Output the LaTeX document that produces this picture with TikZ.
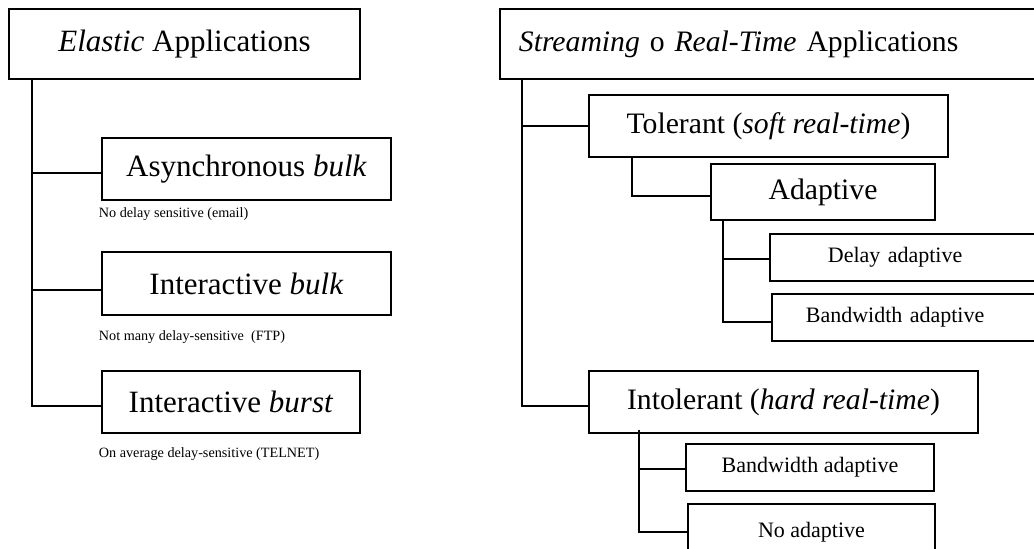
\documentclass[tikz,border=0pt]{standalone}
\usepackage{fontspec}
\setmainfont{Liberation Serif}
\usetikzlibrary{positioning}

\begin{document}
\begin{tikzpicture}[x=1pt,y=-1pt,line width=1.8pt,box/.style={draw,inner ysep=0pt,align=center},bigbox/.style={box,font=\fontsize{#1}{#1}\selectfont},bigbox/.default=31,midbox/.style={box,font=\fontsize{22}{26}\selectfont},note/.style={anchor=west,inner sep=0pt,font=\fontsize{14.2}{17}\selectfont}]
\useasboundingbox (0,0) rectangle (1034,549);
% elastic side
\node[bigbox,minimum width=351pt,minimum height=70pt] (ela) at (184.5,44) {\textit{Elastic} Applications};
\node[bigbox,minimum width=289pt,minimum height=62pt] (asy) at (246.5,169) {Asynchronous \textit{bulk}};
\node[note] (asyn) at (98,214.5) {No delay sensitive (email)};
\node[bigbox,minimum width=289pt,minimum height=63pt] (ibk) at (246.5,283.5) {Interactive \textit{bulk}};
\node[note] (ibkn) at (98,337) {Not many delay-sensitive\ \ (FTP)};
\node[bigbox,minimum width=258pt,minimum height=62pt] (ibs) at (231,402) {Interactive \textit{burst}};
\node[note] (ibsn) at (98,454.5) {On average delay-sensitive (TELNET)};
\draw ([xshift=24pt]ela.south west) |- ([yshift=-4pt]asy.west);
\draw ([xshift=24pt]ela.south west) |- ([yshift=-6.5pt]ibk.west);
\draw ([xshift=24pt]ela.south west) |- ([yshift=-4pt]ibs.west);
% streaming side
\node[bigbox=29.7,anchor=west,text width=507pt,inner xsep=19pt,align=left,minimum height=70pt] (str) at (499,44) {\textit{Streaming} o \textit{Real-Time} Applications};
\node[bigbox=29.7,minimum width=359pt,minimum height=62pt] (tol) at (768.5,126) {Tolerant (\textit{soft real-time})};
\node[bigbox=29.7,minimum width=224pt,minimum height=56pt] (ada) at (823,192) {Adaptive};
\node[midbox,anchor=west,text width=159pt,inner xsep=58pt,align=left,minimum height=47pt] (dly) at (769,257.5) {Delay adaptive};
\node[midbox,anchor=west,text width=205pt,inner xsep=34pt,align=left,minimum height=47pt] (bwa) at (771,317.5) {Bandwidth adaptive};
\node[bigbox=29.7,minimum width=389pt,minimum height=62pt] (int) at (783.5,402) {Intolerant (\textit{hard real-time})};
\node[midbox,minimum width=248pt,minimum height=47pt] (bw2) at (810,467.5) {Bandwidth adaptive};
\node[midbox,minimum width=247pt,minimum height=56pt] (noa) at (811.5,532) {No adaptive};
\draw ([xshift=23pt]str.south west) |- (tol.west);
\draw ([xshift=23pt]str.south west) |- ([yshift=-4pt]int.west);
\draw ([xshift=44pt]tol.south west) |- ([yshift=-4pt]ada.west);
\draw ([xshift=13pt]ada.south west) |- ([yshift=-1.5pt]dly.west);
\draw ([xshift=13pt]ada.south west) |- ([yshift=-4.5pt]bwa.west);
\draw ([xshift=51pt,yshift=4pt]int.south west) |- ([yshift=-1.5pt]bw2.west);
\draw ([xshift=51pt,yshift=4pt]int.south west) |- (noa.west);
\end{tikzpicture}
\end{document}
